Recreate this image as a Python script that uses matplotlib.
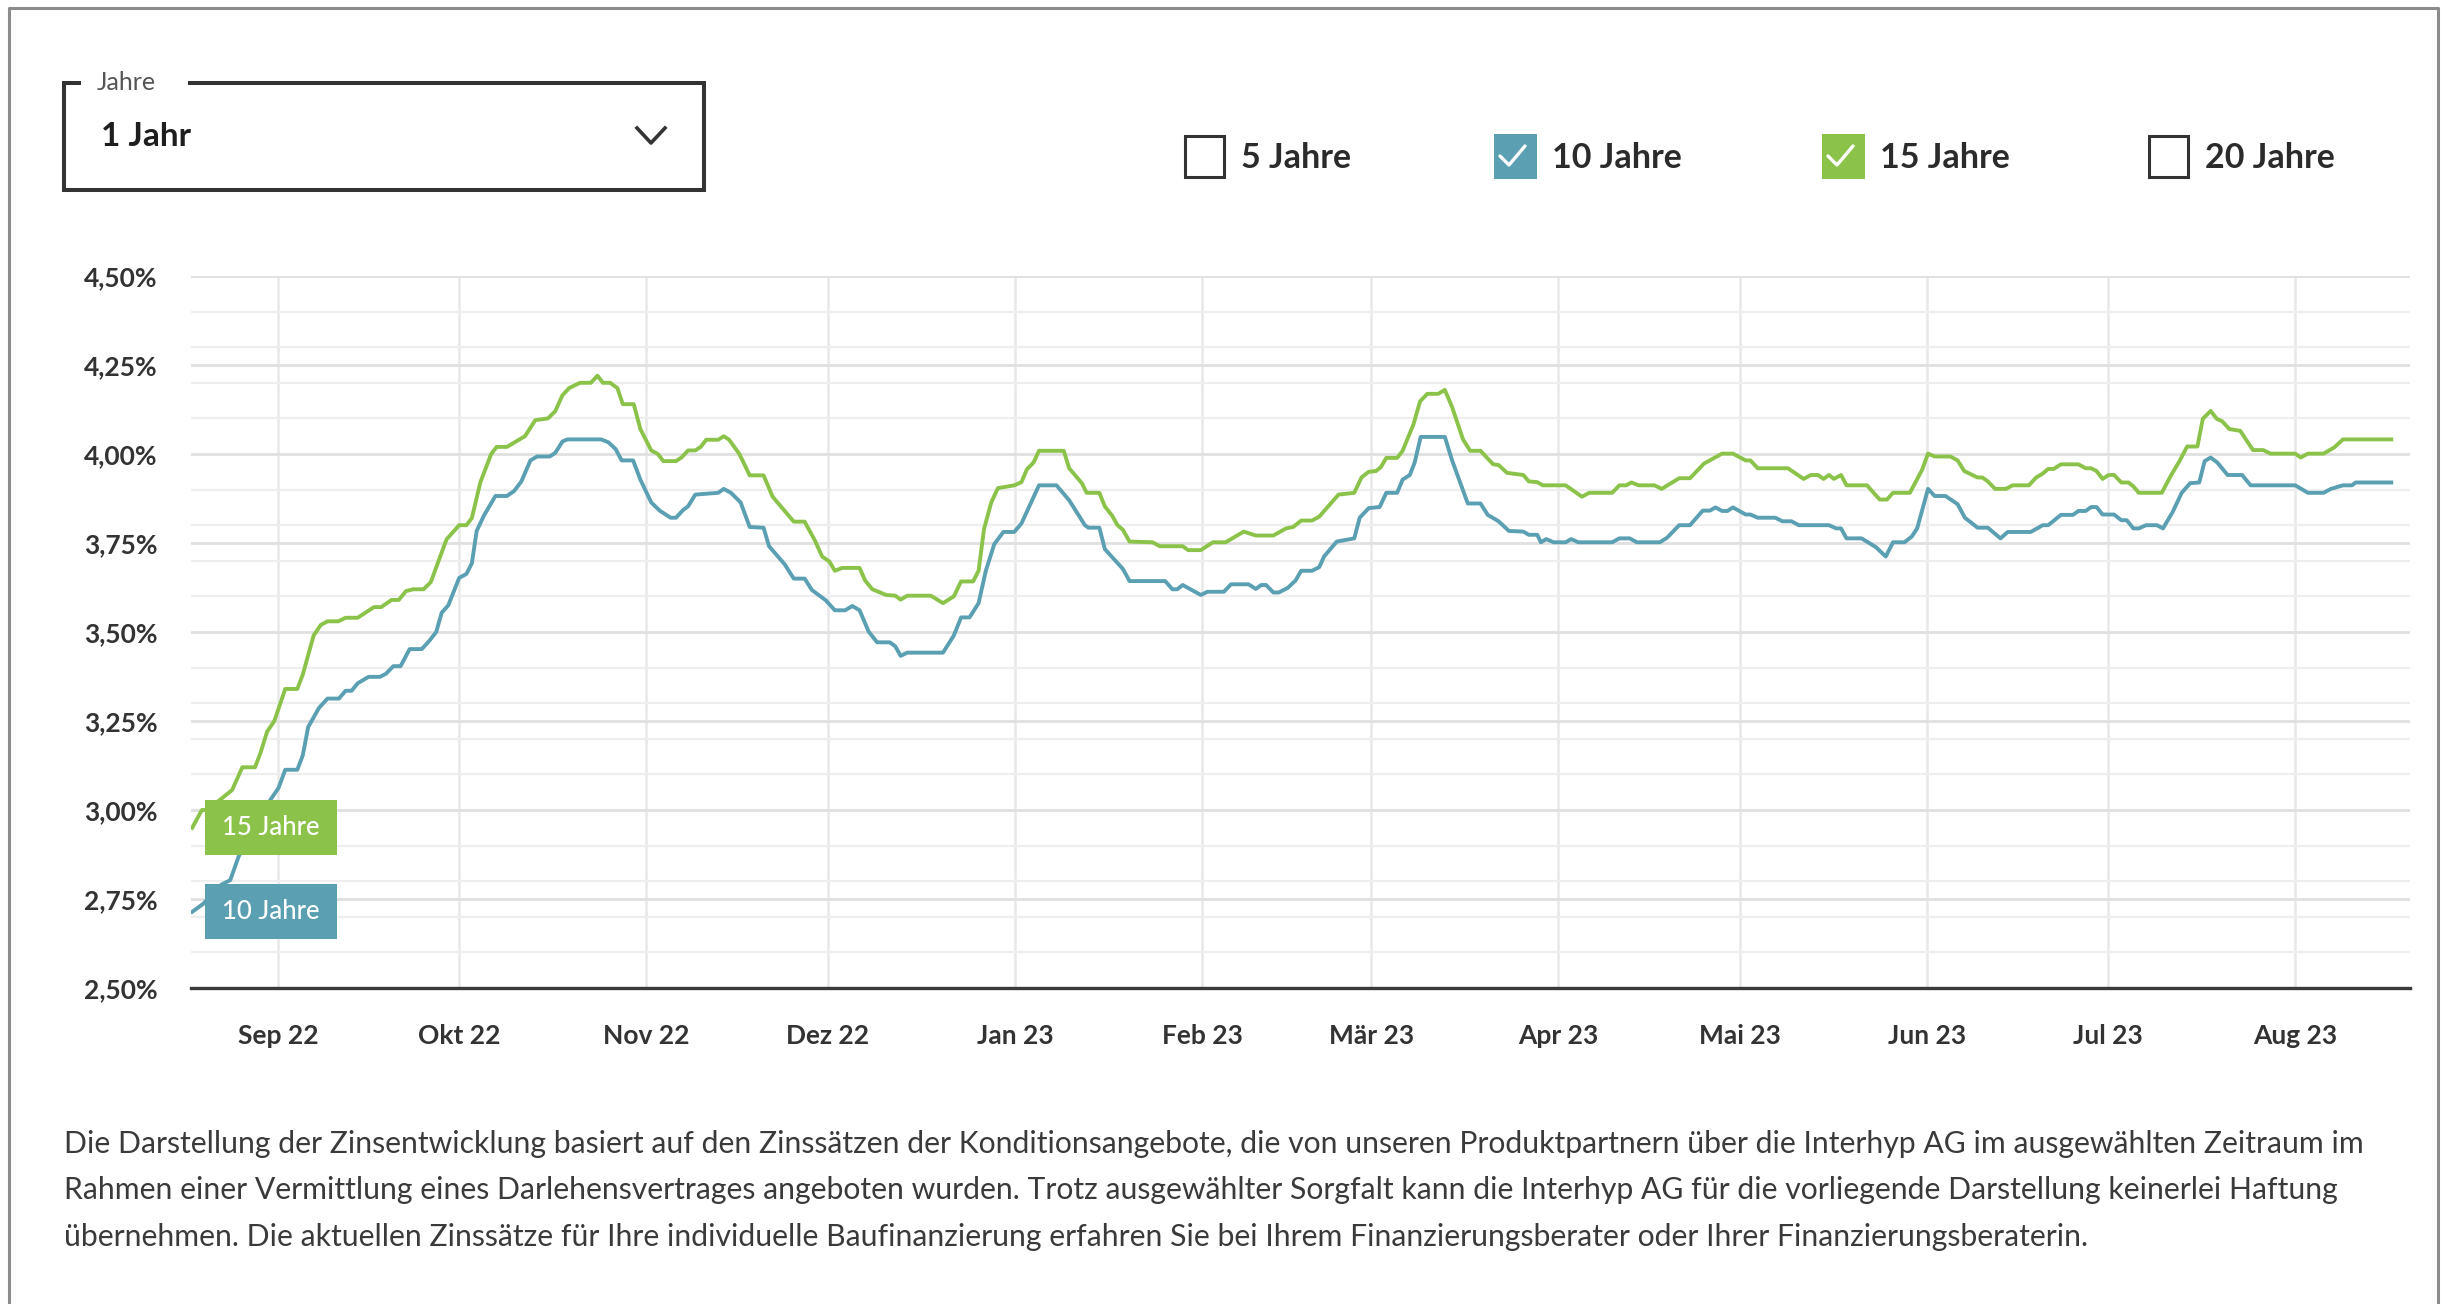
import matplotlib
matplotlib.use("Agg")
import matplotlib.pyplot as plt
import matplotlib.dates as mdates
from matplotlib.patches import Rectangle
from matplotlib.ticker import MultipleLocator, FuncFormatter
from datetime import date
import numpy as np

plt.rcParams["font.family"] = ["Lato", "DejaVu Sans"]

# x values are days counted from 1 Sep 2022, rates are in percent
START = date(2022, 9, 1)

days_15 = [-14.2, -12.6, -11.8, -9.5, -7.6, -5.9, -3.8, -2.9, -1.8, -0.6, 1.2, 3.2, 4.1, 5.9,
           7.1, 8.2, 10.0, 11.2, 13.2, 15.9, 17.1, 18.8, 20.0, 21.2, 22.4, 24.1, 25.3, 27.9,
           30.0, 31.2, 32.1, 33.5, 35.3, 36.2, 37.9, 39.4, 40.9, 42.6, 44.7, 45.9, 47.1, 48.2,
           50.0, 51.8, 52.9, 53.8, 55.0, 56.2, 57.1, 58.9, 60.0, 61.8, 62.9, 63.8, 65.9, 66.8,
           67.9, 69.1, 70.0, 70.9, 72.9, 73.8, 74.7, 76.4, 78.1, 80.4, 81.9, 85.4, 87.2, 88.9,
           90.1, 91.3, 92.2, 93.4, 96.3, 97.2, 98.4, 100.7, 102.2, 103.1, 104.2, 108.1, 110.1,
           111.9, 113.1, 115.1, 116.0, 116.9, 118.1, 119.2, 121.9, 123.1, 124.0, 125.1, 126.0,
           130.1, 131.0, 133.1, 133.9, 136.0, 136.9, 138.1, 139.0, 139.9, 141.0, 144.8, 146.0,
           149.8, 150.7, 152.8, 154.8, 156.9, 159.9, 161.9, 164.8, 166.9, 168.1, 169.4, 171.2,
           172.4, 175.6, 178.2, 179.4, 180.6, 181.8, 182.6, 183.5, 185.3, 186.2, 188.0, 189.1,
           190.3, 192.1, 193.2, 194.4, 196.2, 197.4, 199.1, 201.2, 202.1, 203.5, 206.2, 207.1,
           208.5, 209.4, 213.2, 215.9, 217.1, 220.9, 222.1, 223.2, 224.1, 225.3, 227.9, 229.1,
           232.0, 233.8, 236.1, 239.1, 240.9, 243.0, 243.8, 245.0, 250.0, 252.6, 253.8, 255.0,
           255.9, 256.8, 257.6, 258.8, 259.7, 263.1, 265.2, 266.4, 267.4, 270.2, 272.2, 273.2,
           274.3, 276.9, 278.1, 279.2, 281.4, 282.2, 283.1, 284.3, 286.1, 287.2, 289.9, 291.1,
           292.1, 293.1, 294.0, 295.2, 298.1, 299.3, 300.2, 301.1, 302.1, 303.1, 304.0, 305.2,
           306.4, 307.2, 308.1, 311.9, 313.4, 314.9, 316.1, 317.8, 318.7, 320.0, 321.0, 321.9,
           323.1, 324.9, 327.0, 328.7, 329.9, 334.0, 334.9, 336.1, 338.7, 340.5, 341.9, 349.9]
rate_15 = [2.950, 3.000, 3.000, 3.030, 3.056, 3.120, 3.120, 3.160, 3.220, 3.250, 3.340, 3.340,
           3.380, 3.490, 3.520, 3.530, 3.530, 3.540, 3.540, 3.570, 3.570, 3.590, 3.590, 3.615,
           3.620, 3.620, 3.640, 3.760, 3.800, 3.800, 3.820, 3.920, 4.000, 4.020, 4.020, 4.035,
           4.050, 4.095, 4.100, 4.120, 4.165, 4.185, 4.200, 4.200, 4.220, 4.200, 4.200, 4.185,
           4.140, 4.140, 4.070, 4.010, 4.000, 3.980, 3.980, 3.990, 4.010, 4.010, 4.020, 4.040,
           4.040, 4.050, 4.040, 4.000, 3.940, 3.940, 3.880, 3.810, 3.810, 3.757, 3.712, 3.698,
           3.672, 3.680, 3.680, 3.645, 3.620, 3.604, 3.602, 3.591, 3.602, 3.602, 3.581, 3.600,
           3.642, 3.642, 3.672, 3.789, 3.864, 3.904, 3.912, 3.921, 3.957, 3.976, 4.009, 4.009,
           3.960, 3.918, 3.891, 3.891, 3.853, 3.827, 3.800, 3.787, 3.754, 3.752, 3.741, 3.741,
           3.730, 3.730, 3.752, 3.752, 3.782, 3.771, 3.771, 3.791, 3.795, 3.813, 3.813, 3.824,
           3.886, 3.891, 3.934, 3.950, 3.952, 3.963, 3.989, 3.989, 4.009, 4.083, 4.148, 4.169,
           4.169, 4.180, 4.132, 4.041, 4.009, 4.009, 3.971, 3.969, 3.947, 3.941, 3.923, 3.921,
           3.912, 3.912, 3.880, 3.891, 3.891, 3.912, 3.912, 3.920, 3.912, 3.912, 3.902, 3.932,
           3.932, 3.973, 4.001, 4.001, 3.982, 3.982, 3.960, 3.960, 3.930, 3.941, 3.941, 3.930,
           3.941, 3.930, 3.941, 3.912, 3.912, 3.872, 3.872, 3.891, 3.891, 3.955, 4.001, 3.993,
           3.993, 3.982, 3.952, 3.934, 3.934, 3.923, 3.902, 3.902, 3.912, 3.912, 3.934, 3.944,
           3.958, 3.958, 3.971, 3.971, 3.960, 3.960, 3.952, 3.930, 3.941, 3.941, 3.920, 3.920,
           3.909, 3.891, 3.891, 3.939, 3.982, 4.021, 4.021, 4.099, 4.121, 4.099, 4.092, 4.070,
           4.065, 4.011, 4.011, 4.001, 4.001, 3.990, 4.001, 4.001, 4.019, 4.041, 4.041]

days_10 = [-14.2, -12.4, -9.4, -7.9, -6.5, -1.2, 0.1, 1.2, 3.2, 4.1, 5.0, 6.8, 8.2, 10.1, 11.2,
           12.2, 13.2, 15.0, 16.9, 17.9, 19.1, 20.3, 21.8, 23.8, 25.0, 26.2, 27.1, 28.2, 30.0,
           31.2, 32.1, 32.9, 34.1, 36.0, 37.9, 39.1, 40.3, 41.8, 42.9, 45.0, 45.9, 47.1, 47.9,
           53.5, 54.7, 55.9, 56.9, 58.8, 60.0, 61.8, 63.2, 65.0, 65.9, 67.1, 67.9, 69.1, 72.9,
           73.8, 75.0, 76.6, 78.1, 80.4, 81.3, 83.9, 85.4, 87.2, 88.4, 90.7, 92.2, 93.9, 95.1,
           96.3, 97.8, 99.2, 101.3, 102.2, 103.1, 104.2, 110.1, 111.9, 113.1, 114.5, 116.0,
           117.2, 118.6, 120.1, 121.9, 123.1, 126.0, 128.9, 131.0, 133.6, 134.2, 136.0, 136.9,
           139.9, 141.0, 146.9, 148.1, 148.9, 149.8, 152.8, 153.9, 156.6, 157.8, 160.7, 161.9,
           162.8, 163.6, 164.8, 165.7, 167.2, 168.5, 169.4, 171.2, 172.4, 173.2, 175.3, 178.2,
           179.1, 180.6, 182.4, 183.5, 185.3, 186.2, 187.4, 188.2, 189.2, 193.2, 194.4, 197.0,
           199.1, 200.3, 202.1, 203.8, 206.2, 207.1, 208.5, 209.1, 210.0, 211.2, 213.2, 214.1,
           215.3, 220.9, 222.1, 223.8, 225.0, 228.8, 230.0, 232.0, 233.8, 235.9, 237.1, 238.0,
           239.1, 240.0, 240.9, 243.0, 243.8, 245.0, 247.9, 249.1, 250.6, 251.8, 256.8, 258.0,
           258.8, 259.7, 262.2, 264.6, 266.2, 267.4, 269.3, 270.5, 271.4, 273.2, 274.3, 276.1,
           278.1, 279.3, 281.4, 283.1, 285.2, 286.4, 290.2, 292.2, 293.1, 295.2, 297.2, 298.1,
           299.3, 300.2, 301.1, 302.1, 304.0, 305.2, 306.1, 307.2, 308.1, 309.3, 311.1, 312.1,
           313.7, 315.2, 316.6, 318.1, 319.0, 320.0, 321.1, 322.8, 325.2, 326.6, 334.0, 336.1,
           338.7, 339.9, 341.9, 343.4, 344.0, 349.9]
rate_10 = [2.714, 2.736, 2.790, 2.803, 2.870, 3.030, 3.062, 3.113, 3.113, 3.153, 3.233, 3.287,
           3.313, 3.313, 3.335, 3.335, 3.356, 3.374, 3.374, 3.383, 3.404, 3.404, 3.452, 3.452,
           3.474, 3.500, 3.554, 3.575, 3.652, 3.663, 3.693, 3.784, 3.827, 3.882, 3.882, 3.896,
           3.923, 3.982, 3.993, 3.993, 4.003, 4.035, 4.041, 4.041, 4.033, 4.014, 3.982, 3.982,
           3.928, 3.864, 3.841, 3.821, 3.821, 3.843, 3.853, 3.886, 3.891, 3.902, 3.891, 3.864,
           3.795, 3.793, 3.741, 3.690, 3.650, 3.650, 3.618, 3.589, 3.561, 3.561, 3.573, 3.561,
           3.501, 3.471, 3.471, 3.460, 3.433, 3.442, 3.442, 3.490, 3.541, 3.541, 3.581, 3.672,
           3.747, 3.781, 3.781, 3.805, 3.912, 3.912, 3.870, 3.800, 3.793, 3.793, 3.733, 3.677,
           3.643, 3.643, 3.620, 3.620, 3.632, 3.604, 3.613, 3.613, 3.634, 3.634, 3.621, 3.632,
           3.632, 3.611, 3.611, 3.624, 3.645, 3.672, 3.672, 3.682, 3.712, 3.754, 3.763, 3.821,
           3.848, 3.851, 3.891, 3.891, 3.928, 3.941, 3.976, 4.048, 4.048, 3.982, 3.861, 3.861,
           3.829, 3.811, 3.784, 3.782, 3.773, 3.773, 3.752, 3.761, 3.752, 3.752, 3.761, 3.752,
           3.752, 3.763, 3.763, 3.752, 3.752, 3.765, 3.800, 3.800, 3.841, 3.841, 3.850, 3.840,
           3.840, 3.850, 3.830, 3.830, 3.821, 3.821, 3.811, 3.811, 3.800, 3.800, 3.791, 3.791,
           3.763, 3.763, 3.738, 3.712, 3.752, 3.752, 3.768, 3.791, 3.902, 3.882, 3.882, 3.859,
           3.821, 3.793, 3.793, 3.763, 3.781, 3.781, 3.800, 3.800, 3.829, 3.829, 3.840, 3.840,
           3.851, 3.851, 3.830, 3.830, 3.814, 3.814, 3.791, 3.791, 3.800, 3.800, 3.791, 3.837,
           3.891, 3.918, 3.920, 3.980, 3.990, 3.976, 3.941, 3.941, 3.912, 3.912, 3.891, 3.891,
           3.902, 3.912, 3.912, 3.920, 3.920]

month_names = ["Jan", "Feb", "Mär", "Apr", "Mai", "Jun", "Jul", "Aug", "Sep", "Okt", "Nov", "Dez"]
checkbox_names = ["5 Jahre", "10 Jahre", "15 Jahre", "20 Jahre"]
checkbox_checked = [False, True, True, False]
footer_lines = [
    "Die Darstellung der Zinsentwicklung basiert auf den Zinssätzen der Konditionsangebote, die von unseren Produktpartnern über die Interhyp AG im ausgewählten Zeitraum im",
    "Rahmen einer Vermittlung eines Darlehensvertrages angeboten wurden. Trotz ausgewählter Sorgfalt kann die Interhyp AG für die vorliegende Darstellung keinerlei Haftung",
    "übernehmen. Die aktuellen Zinssätze für Ihre individuelle Baufinanzierung erfahren Sie bei Ihrem Finanzierungsberater oder Ihrer Finanzierungsberaterin.",
]

TEAL = "#5a9fb2"
GREEN = "#8bc34a"
DARK = "#333333"
W, H = 2443, 1304


def px_rect(left, top, right, bottom):
    return [left / W, 1 - bottom / H, (right - left) / W, (bottom - top) / H]


def month_label(v, pos):
    d = mdates.num2date(v)
    return f"{month_names[d.month - 1]} {d:%y}"


def percent_label(v, pos):
    return f"{v:.2f}".replace(".", ",") + "%"


fig = plt.figure(figsize=(W / 100, H / 100), dpi=100)

# chart
ax = fig.add_axes(px_rect(191, 276, 2410, 988))
base = mdates.date2num(START)
x10 = base + np.array(days_10)
x15 = base + np.array(days_15)
ax.plot(x10, rate_10, color=TEAL, lw=2.8, solid_joinstyle="round", zorder=3)
ax.plot(x15, rate_15, color=GREEN, lw=2.8, solid_joinstyle="round", zorder=3)

ax.set_xlim(base - 14.4, base + 353.0)
ax.set_ylim(2.5, 4.5)
ax.xaxis.set_major_locator(mdates.MonthLocator())
ax.xaxis.set_major_formatter(FuncFormatter(month_label))
ax.yaxis.set_major_locator(MultipleLocator(0.25))
ax.yaxis.set_minor_locator(MultipleLocator(0.1))
ax.yaxis.set_major_formatter(FuncFormatter(percent_label))

ax.set_axisbelow(True)
ax.grid(axis="x", which="major", color="#e8e8e8", lw=1.8)
ax.grid(axis="y", which="major", color="#e0e0e0", lw=2.0)
ax.grid(axis="y", which="minor", color="#eeeeee", lw=1.6)
ax.tick_params(which="both", length=0, colors=DARK, labelsize=19)
ax.tick_params(axis="x", pad=26)
ax.tick_params(axis="y", pad=24)
for lbl in ax.get_xticklabels() + ax.get_yticklabels():
    lbl.set_fontweight("bold")
for side in ["top", "right", "left"]:
    ax.spines[side].set_visible(False)
ax.spines["bottom"].set_color("#3a3a3a")
ax.spines["bottom"].set_linewidth(2.4)

# overlay in pixel coordinates for the page elements
ui = fig.add_axes([0, 0, 1, 1])
ui.set_xlim(0, W)
ui.set_ylim(H, 0)
ui.axis("off")

# series labels at the first value of each line
for name, color, xs, ys in [("15 Jahre", GREEN, x15, rate_15), ("10 Jahre", TEAL, x10, rate_10)]:
    yc = H - ax.transData.transform((xs[0], ys[0]))[1]
    ui.add_patch(Rectangle((205, yc - 27.5), 132, 55, facecolor=color, edgecolor="none", zorder=5))
    ui.text(271, yc, name, color="white", fontsize=18.5, ha="center", va="center",
            fontweight="medium", zorder=6)

# outer frame
ui.plot([9, 9, 2438, 2438], [H + 10, 8, 8, H + 10], color="#8c8c8c", lw=2.2, clip_on=False)

# dropdown
ui.plot([81, 64, 64, 704, 704, 188], [83, 83, 190, 190, 83, 83], color=DARK, lw=2.9,
        solid_joinstyle="miter", solid_capstyle="butt")
ui.text(97, 82, "Jahre", fontsize=18, color="#555555", ha="left", va="center")
ui.text(101, 137, "1 Jahr", fontsize=24, color="#1e1e1e", ha="left", va="center", fontweight="bold")
ui.plot([637, 651, 665], [128, 143, 128], color=DARK, lw=2.6)

# checkboxes
box_left = [1183, 1494, 1822, 2147]
series_colors = {"10 Jahre": TEAL, "15 Jahre": GREEN}
for name, checked, bx in zip(checkbox_names, checkbox_checked, box_left):
    if checked:
        ui.add_patch(Rectangle((bx, 134), 43, 45, facecolor=series_colors[name], edgecolor="none"))
        ui.plot([bx + 6, bx + 15, bx + 31], [156, 165, 146], color="white", lw=2.4,
                solid_capstyle="round", solid_joinstyle="round")
    else:
        ui.add_patch(Rectangle((bx + 1.5, 135.5), 39, 41, facecolor="none", edgecolor=DARK, lw=2.2))
    ui.text(bx + 58, 158, name, fontsize=24.5, color="#2b2b2b", ha="left", va="center",
            fontweight="bold")

# footer note
for i, line in enumerate(footer_lines):
    ui.text(64, 1144 + i * 46.5, line, fontsize=21.7, color="#3a3a3a", ha="left", va="center")

fig.savefig("out.png", dpi=100)
